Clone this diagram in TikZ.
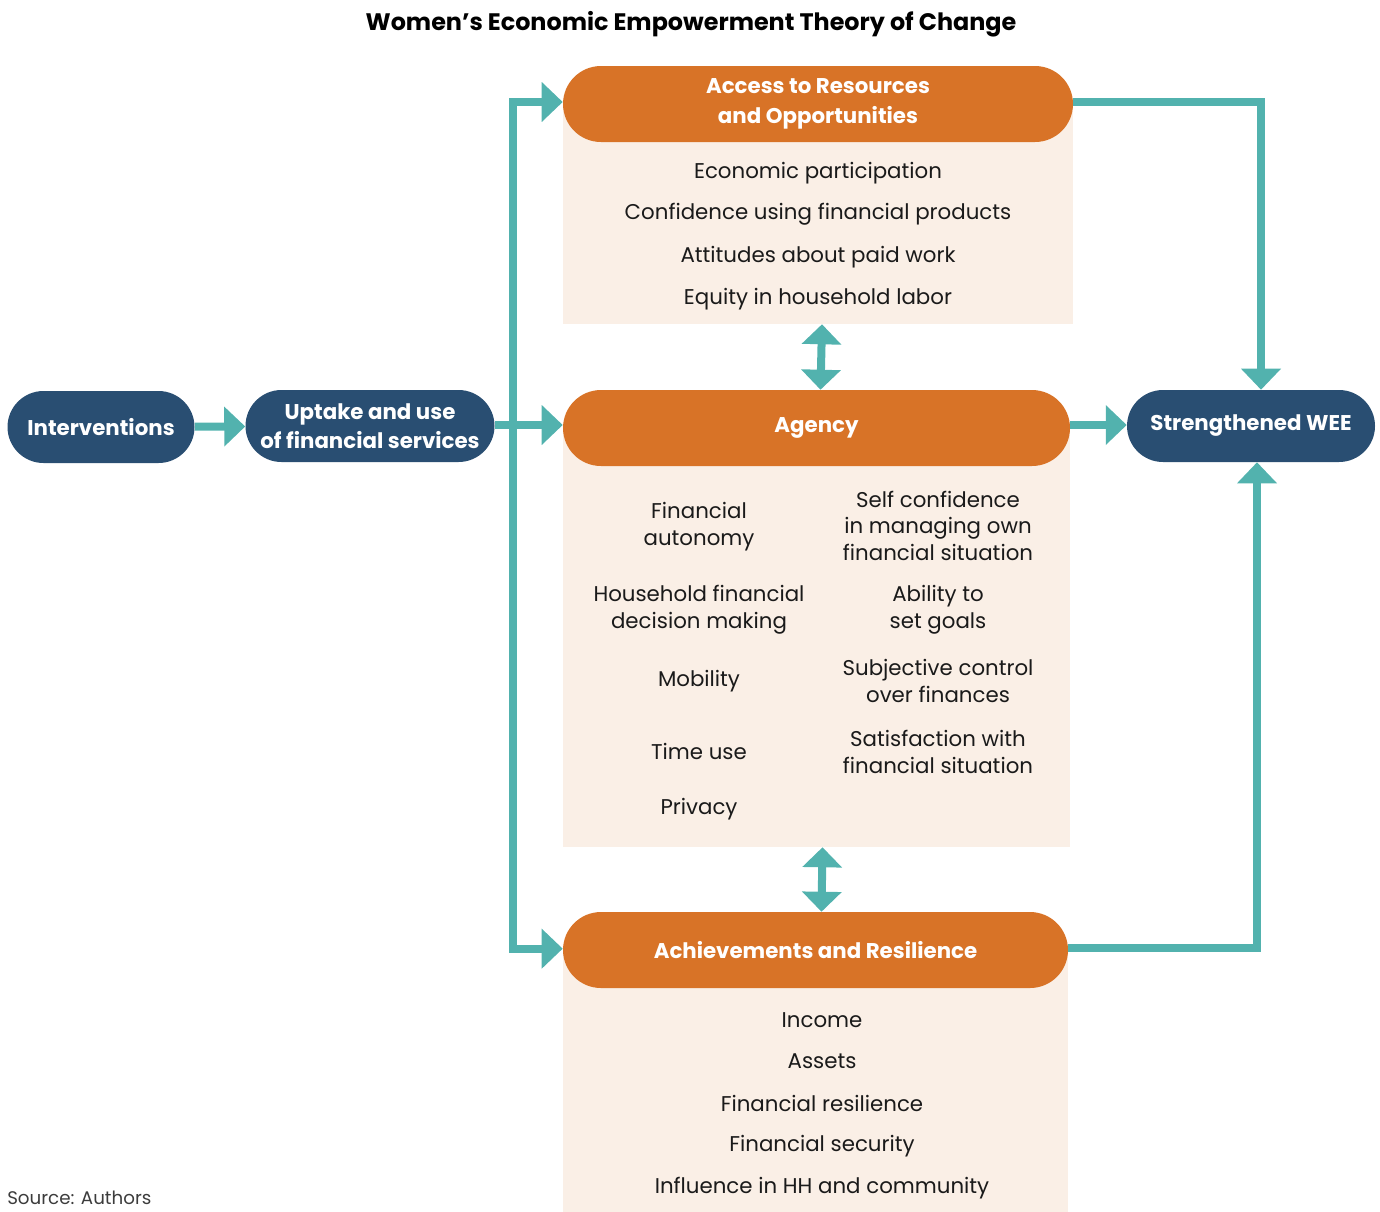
\documentclass[tikz,border=0pt]{standalone}
\usepackage{fontspec}
\setmainfont{Poppins}
\usetikzlibrary{arrows.meta,shapes.misc}
\definecolor{weeteal}{HTML}{52B2AE}
\definecolor{weeorange}{HTML}{D87327}
\definecolor{weeblue}{HTML}{294E72}
\definecolor{weepeach}{HTML}{FAEFE6}
\definecolor{weetext}{HTML}{1A1A1A}
\tikzset{
  bluepill/.style={rounded rectangle, fill=weeblue, text=white, font=\bfseries\fontsize{16}{21.5}\selectfont, align=center, minimum height=54pt, inner sep=0pt},
  orangepill/.style={rounded rectangle, fill=weeorange, text=white, font=\bfseries\fontsize{16}{22.5}\selectfont, align=center, minimum height=57pt, inner sep=0pt},
  peachbox/.style={rectangle, fill=weepeach, inner sep=0pt},
  item/.style={text=weetext, font=\fontsize{16}{20}\selectfont, align=center, yshift=-2pt},
  flow/.style={draw=weeteal, line width=6pt, -{Triangle[length=15.75pt,width=29pt]}},
  twoway/.style={draw=weeteal, line width=6pt, {Triangle[length=15pt,width=29pt]}-{Triangle[length=15pt,width=29pt]}}
}
\begin{document}
\begin{tikzpicture}[x=0.75pt,y=-0.75pt]
\useasboundingbox (0,0) rectangle (1380,1211);

\node[font=\bfseries\fontsize{17.9}{21}\selectfont] (title) at (691,24) {Women’s Economic Empowerment Theory of Change};

% boxes behind the headers
\node[peachbox, minimum width=382.5pt, minimum height=165.75pt] (accbox) at (818,213.5) {};
\node[peachbox, minimum width=380.25pt, minimum height=315pt] (agbox) at (816.5,637) {};
\node[peachbox, minimum width=378.75pt, minimum height=198.75pt] (achbox) at (815.5,1081.5) {};

\node[bluepill, minimum width=140.25pt] (interv) at (101,427) {Interventions};
\node[bluepill, minimum width=186.75pt] (uptake) at (370,426) {Uptake and use\\of financial services};
\node[bluepill, minimum width=186pt] (wee) at (1251,426) {Strengthened WEE};

\node[orangepill, minimum width=382.5pt] (access) at (818,104) {Access to Resources\\and Opportunities};
\node[orangepill, minimum width=380.25pt] (agency) at (816.5,428) {Agency};
\node[orangepill, minimum width=378.75pt] (achieve) at (815.5,950) {Achievements and Resilience};

% access items
\node[item] (acc1) at (818,170) {Economic participation};
\node[item] (acc2) at (818,212) {Confidence using financial products};
\node[item] (acc3) at (818,254) {Attitudes about paid work};
\node[item] (acc4) at (818,296) {Equity in household labor};

% agency items
\node[item] (ag1) at (699,524) {Financial\\autonomy};
\node[item] (ag2) at (699,607) {Household financial\\decision making};
\node[item] (ag3) at (699,678) {Mobility};
\node[item] (ag4) at (699,749) {Time use};
\node[item] (ag5) at (699,806) {Privacy};
\node[item] (ag6) at (938,523) {Self confidence\\in managing own\\financial situation};
\node[item] (ag7) at (938,607) {Ability to\\set goals};
\node[item] (ag8) at (938,678) {Subjective control\\over finances};
\node[item] (ag9) at (938,749) {Satisfaction with\\financial situation};

% achievement items
\node[item] (ach1) at (822,1017) {Income};
\node[item] (ach2) at (822,1059) {Assets};
\node[item] (ach3) at (822,1101) {Financial resilience};
\node[item] (ach4) at (822,1143) {Financial security};
\node[item] (ach5) at (822,1185) {Influence in HH and community};

\node[anchor=west, inner sep=0pt, text=weetext!85, font=\fontsize{13.7}{16}\selectfont] (source) at (7,1198) {Source: Authors};

\coordinate (split) at (513,425);
\draw[flow] (interv) -- (uptake);
\draw[flow] (uptake.east |- split) -- (split -| agency.west);
\draw[flow] (split) |- ([yshift=1.5pt]access.west);
\draw[flow] (split) |- ([yshift=1pt]achieve.west);
\draw[flow] (agency.east |- split) -- (split -| wee.west);
\draw[flow] ([yshift=1.5pt]access.east) -| ([xshift=7.5pt]wee.north);
\draw[flow] ([yshift=1.5pt]achieve.east) -| ([xshift=4.5pt]wee.south);
\draw[twoway] ([xshift=3pt]accbox.south) -- ([xshift=3pt]agency.north);
\draw[twoway] ([xshift=4.5pt]agbox.south) -- ([xshift=4.5pt]achieve.north);
\end{tikzpicture}
\end{document}
